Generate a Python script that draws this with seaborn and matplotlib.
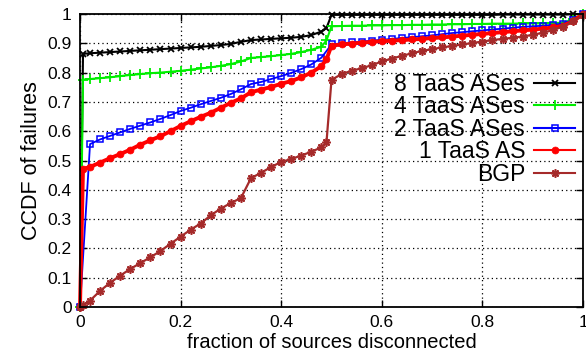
import numpy as np
import pandas as pd
import matplotlib
matplotlib.use("Agg")
import matplotlib.pyplot as plt
import seaborn as sns

# x grid: fraction of sources disconnected
frac = [0, 0.006, 0.02, 0.04, 0.06, 0.08, 0.10, 0.12, 0.14, 0.16, 0.18, 0.20,
        0.22, 0.24, 0.26, 0.28, 0.30, 0.32, 0.34, 0.36, 0.38, 0.40, 0.42, 0.44,
        0.46, 0.48, 0.49, 0.50, 0.52, 0.54, 0.56, 0.58, 0.60, 0.62, 0.64, 0.66,
        0.68, 0.70, 0.72, 0.74, 0.76, 0.78, 0.80, 0.82, 0.84, 0.86, 0.88, 0.90,
        0.92, 0.94, 0.96, 0.98, 1.0]

taas8 = [0, 0.864, 0.866, 0.868, 0.870, 0.872, 0.874, 0.876, 0.878, 0.880, 0.882, 0.884,
         0.886, 0.888, 0.891, 0.894, 0.898, 0.905, 0.911, 0.913, 0.915, 0.917, 0.919, 0.922,
         0.928, 0.940, 0.952, 0.997, 0.997, 0.997, 0.997, 0.997, 0.997, 0.997, 0.997, 0.997,
         0.997, 0.997, 0.997, 0.997, 0.997, 0.997, 0.997, 0.997, 0.998, 0.998, 0.998, 0.998,
         0.998, 0.998, 0.998, 0.999, 1.0]

taas4 = [0, 0.776, 0.778, 0.781, 0.784, 0.788, 0.792, 0.795, 0.798, 0.800, 0.803, 0.806,
         0.810, 0.814, 0.818, 0.823, 0.829, 0.838, 0.850, 0.853, 0.856, 0.860, 0.864, 0.870,
         0.878, 0.888, 0.910, 0.958, 0.959, 0.960, 0.960, 0.961, 0.961, 0.962, 0.962, 0.963,
         0.963, 0.964, 0.964, 0.965, 0.965, 0.966, 0.966, 0.967, 0.967, 0.967, 0.968, 0.968,
         0.968, 0.969, 0.970, 0.982, 1.0]

taas2 = [0, np.nan, 0.556, 0.572, 0.584, 0.596, 0.608, 0.619, 0.630, 0.642, 0.655, 0.669,
         0.680, 0.692, 0.703, 0.714, 0.727, 0.743, 0.761, 0.768, 0.778, 0.788, 0.799, 0.812,
         0.828, 0.851, np.nan, 0.896, 0.900, 0.903, 0.906, 0.909, 0.912, 0.915, 0.918, 0.921,
         0.924, 0.927, 0.931, 0.935, 0.938, 0.941, 0.944, 0.947, 0.950, 0.953, 0.956, 0.958,
         0.960, 0.963, 0.967, 0.980, 1.0]

taas1 = [0, 0.471, 0.478, 0.493, 0.508, 0.522, 0.537, 0.554, 0.569, 0.583, 0.600, 0.618,
         0.634, 0.649, 0.663, 0.680, 0.697, 0.712, 0.733, 0.742, 0.751, 0.762, 0.771, 0.784,
         0.800, 0.822, 0.845, 0.892, 0.896, 0.899, 0.902, 0.905, 0.907, 0.909, 0.911, 0.913,
         0.915, 0.918, 0.920, 0.923, 0.926, 0.929, 0.932, 0.935, 0.938, 0.941, 0.944, 0.947,
         0.950, 0.954, 0.960, 0.975, 1.0]

bgp = [0, 0.006, 0.022, 0.055, 0.083, 0.107, 0.130, 0.150, 0.170, 0.191, 0.216, 0.240,
       0.264, 0.285, 0.313, 0.336, 0.355, 0.372, 0.440, 0.458, 0.478, 0.495, 0.505, 0.517,
       0.530, 0.545, 0.562, 0.775, 0.795, 0.806, 0.815, 0.825, 0.838, 0.848, 0.857, 0.866,
       0.874, 0.880, 0.886, 0.891, 0.896, 0.901, 0.906, 0.911, 0.915, 0.919, 0.923, 0.929,
       0.936, 0.945, 0.957, 0.975, 0.995]

labels = ["8 TaaS ASes", "4 TaaS ASes", "2 TaaS ASes", "1 TaaS AS", "BGP"]

styles = [
    dict(color="black", mec="black", marker="x", markersize=4.5, mew=1.3, lw=1.5),
    dict(color="#00ee00", mec="#00ee00", marker="+", markersize=7, mew=1.3, lw=1.5),
    dict(color="#0000ff", mec="#0000ff", marker="s", markersize=4.8, mew=1.1, lw=1.3, mfc="none"),
    dict(color="#ff0000", mec="#ff0000", marker="o", markersize=5, mew=0.5, lw=2.8),
    dict(color="#a52a2a", mec="#a52a2a", marker=(8, 2, 0), markersize=6, mew=1.2, lw=1.6),
]

plt.rcParams["font.family"] = ["Liberation Sans", "DejaVu Sans"]

fig = plt.figure(figsize=(5.86, 3.56), dpi=100)
ax = fig.add_axes([0.1365, 0.1376, 0.8584, 0.8231])

for lab, ys, st in zip(labels, [taas8, taas4, taas2, taas1, bgp], styles):
    d = pd.DataFrame({"x": frac, "y": ys}).dropna()
    sns.lineplot(data=d, x="x", y="y", ax=ax, label=lab, estimator=None,
                 sort=False, clip_on=False, **st)

ax.set_xlim(0, 1)
ax.set_ylim(0, 1)
ax.set_xticks([0, 0.2, 0.4, 0.6, 0.8, 1])
ax.set_xticklabels(["0", "0.2", "0.4", "0.6", "0.8", "1"])
ax.set_yticks(np.arange(0, 1.01, 0.1))
ax.set_yticklabels(["0", "0.1", "0.2", "0.3", "0.4", "0.5", "0.6", "0.7", "0.8", "0.9", "1"])
ax.tick_params(direction="in", length=5, width=1, top=True, right=True,
               labelsize=12.5, pad=6)
ax.grid(True, color="black", linestyle=(0, (1, 2.5)), linewidth=0.9)
for s in ax.spines.values():
    s.set_linewidth(1.3)
    s.set_color("black")

ax.set_xlabel("fraction of sources disconnected", fontsize=14.5, labelpad=2)
ax.set_ylabel("CCDF of failures", fontsize=15.5, labelpad=4)

leg = ax.legend(loc="upper right", bbox_to_anchor=(0.985, 0.80), frameon=False,
                markerfirst=False, fontsize=16.5, numpoints=1, handlelength=1.8,
                handletextpad=0.4, labelspacing=-0.02, borderpad=0, borderaxespad=0)
for h in leg.get_lines():
    h.set_linewidth(1.5)

fig.savefig("out.png", dpi=100)
